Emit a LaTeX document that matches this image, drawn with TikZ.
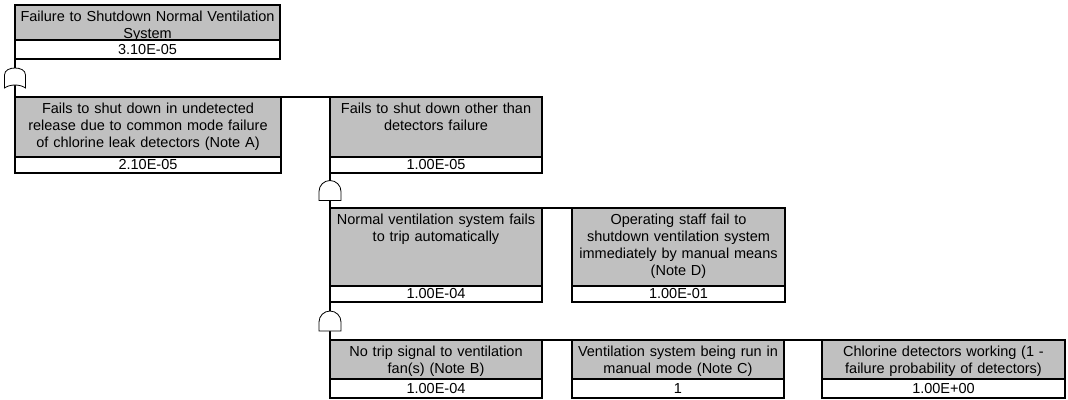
\documentclass[tikz,border=0pt]{standalone}
\usepackage{fontspec}
\setmainfont{Liberation Sans}
\usetikzlibrary{calc,positioning}
\definecolor{evgray}{RGB}{192,192,192}
\newcommand{\evfont}{\fontsize{14.5}{17}\selectfont}
\tikzset{
  desc/.style={draw, fill=evgray, line width=1.5pt, outer sep=0pt,
    anchor=north west, inner xsep=2pt, inner ysep=0pt, align=center,
    text height=16pt, font=\evfont},
  val/.style={draw, fill=white, line width=1.5pt, outer sep=0pt,
    inner xsep=2pt, inner ysep=0pt, align=center, font=\evfont},
  link/.style={line width=1.5pt},
  gate/.style={draw, fill=white, line width=0.8pt},
  orgate/.pic={\path[gate] (-10.5pt,-10pt) -- (-10.5pt,3pt)
    .. controls (-10.5pt,8pt) and (-5pt,10pt) .. (0pt,10pt)
    .. controls (5pt,10pt) and (10.5pt,8pt) .. (10.5pt,3pt)
    -- (10.5pt,-10pt) .. controls (5pt,-6pt) and (-5pt,-6pt) .. cycle;},
  andgate/.pic={\path[gate] (-11pt,-10pt) -- (-11pt,-1pt)
    arc[start angle=180, end angle=0, radius=11pt] -- (11pt,-10pt) -- cycle;}
}
\begin{document}
\begin{tikzpicture}[x=1pt, y=-1pt]
  \useasboundingbox (0,0) rectangle (1068,399);
  % Top event
  \node[desc, text width=261pt, text depth=19pt] (top) at (15,5)
    {Failure to Shutdown Normal Ventilation\\System};
  \node[val, text width=261pt, minimum height=19pt, below=0pt of top] (topv) {3.10E-05};
  % First level
  \node[desc, text width=262pt, text depth=44pt] (cmf) at (15,97)
    {Fails to shut down in undetected\\release due to common mode failure\\of chlorine leak detectors (Note A)};
  \node[val, text width=262pt, minimum height=16pt, below=0pt of cmf] (cmfv) {2.10E-05};
  \node[desc, text width=208pt, text depth=44pt] (oth) at (330,97)
    {Fails to shut down other than\\detectors failure};
  \node[val, text width=208pt, minimum height=16pt, below=0pt of oth] (othv) {1.00E-05};
  % Second level
  \node[desc, text width=208pt, text depth=62pt] (auto) at (330,208)
    {Normal ventilation system fails\\to trip automatically};
  \node[val, text width=208pt, minimum height=16pt, below=0pt of auto] (autov) {1.00E-04};
  \node[desc, text width=209pt, text depth=62pt] (staff) at (572,208)
    {Operating staff fail to\\shutdown ventilation system\\immediately by manual means\\(Note D)};
  \node[val, text width=209pt, minimum height=16pt, below=0pt of staff] (staffv) {1.00E-01};
  % Third level
  \node[desc, text width=208pt, text depth=23pt] (sig) at (330,340)
    {No trip signal to ventilation\\fan(s) (Note B)};
  \node[val, text width=208pt, minimum height=19pt, below=0pt of sig] (sigv) {1.00E-04};
  \node[desc, text width=208pt, text depth=23pt] (man) at (572,340)
    {Ventilation system being run in\\manual mode (Note C)};
  \node[val, text width=208pt, minimum height=19pt, below=0pt of man] (manv) {1};
  \node[desc, text width=239pt, text depth=23pt] (det) at (822,340)
    {Chlorine detectors working (1 -\\failure probability of detectors)};
  \node[val, text width=239pt, minimum height=19pt, below=0pt of det] (detv) {1.00E+00};
  % Connectors
  \draw[link] (topv.south west) -- (cmf.north west);
  \draw[link] (cmf.north east) -- (oth.north west);
  \draw[link] (othv.south west) -- (auto.north west);
  \draw[link] (auto.north east) -- (staff.north west);
  \draw[link] (autov.south west) -- (sig.north west);
  \draw[link] (sig.north east) -- (man.north west);
  \draw[link] (man.north east) -- (det.north west);
  % Gates
  \pic at ($(topv.south west)!0.5!(cmf.north west)$) {orgate};
  \pic at ($(othv.south west)!0.5!(auto.north west)$) {andgate};
  \pic at ($(autov.south west)!0.5!(sig.north west)$) {andgate};
\end{tikzpicture}
\end{document}
